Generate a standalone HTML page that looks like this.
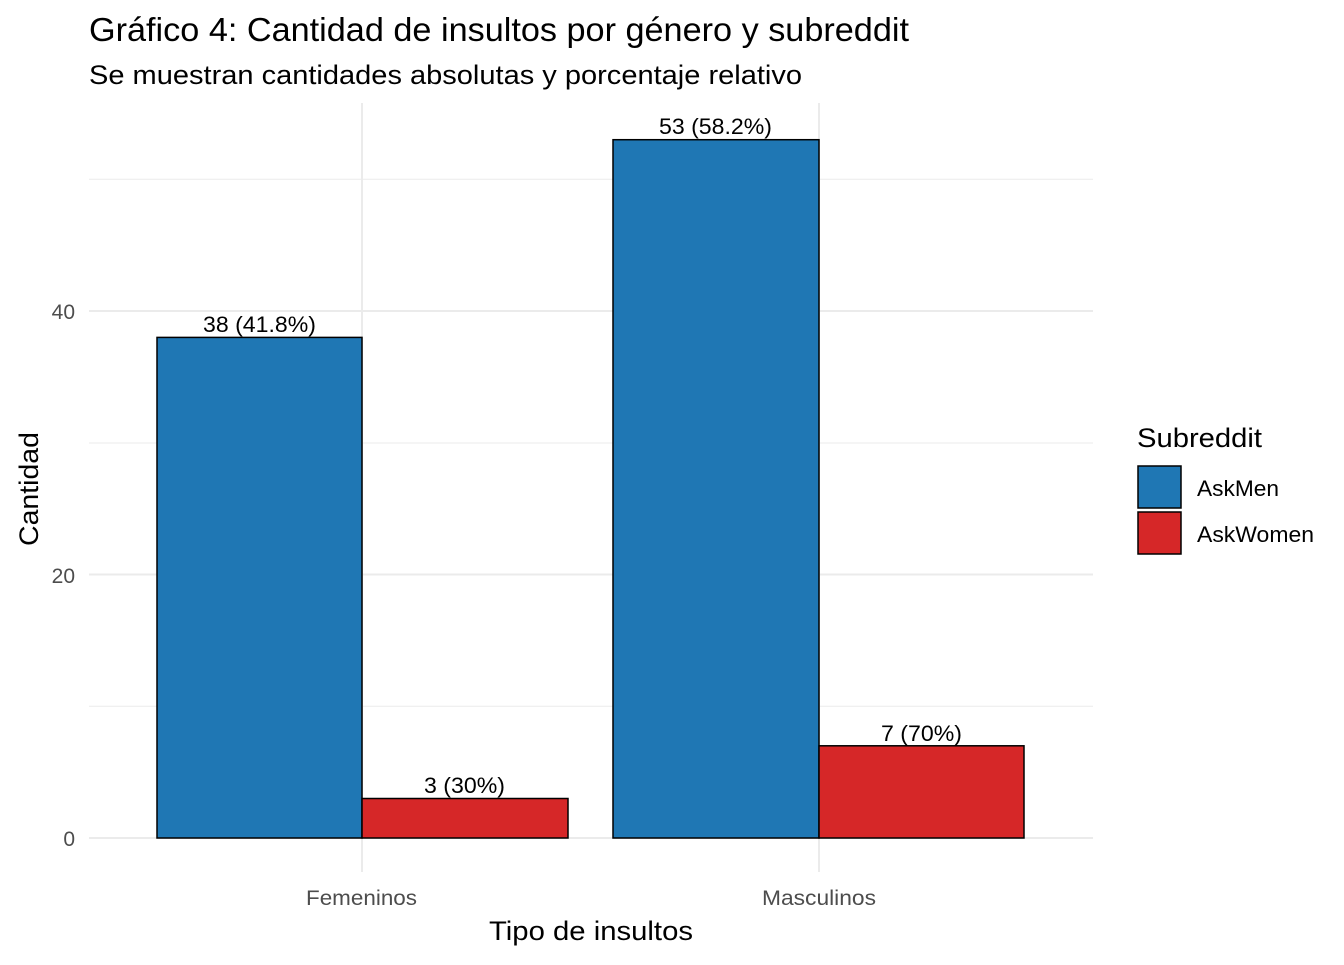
<!DOCTYPE html>
<html><head><meta charset="utf-8"><style>body{margin:0;background:#fff}</style></head>
<body>
<svg width="1344" height="960" xmlns="http://www.w3.org/2000/svg" font-family="Liberation Sans, sans-serif">
<rect width="1344" height="960" fill="#fff"/>
<g stroke="#ebebeb" stroke-width="1">
<line x1="89" x2="1093" y1="706.3" y2="706.3"/>
<line x1="89" x2="1093" y1="443" y2="443"/>
<line x1="89" x2="1093" y1="179.3" y2="179.3"/>
</g>
<g stroke="#ebebeb" stroke-width="2">
<line x1="89" x2="1093" y1="838" y2="838"/>
<line x1="89" x2="1093" y1="574.5" y2="574.5"/>
<line x1="89" x2="1093" y1="311" y2="311"/>
<line x1="362" x2="362" y1="103" y2="872"/>
<line x1="819" x2="819" y1="103" y2="872"/>
</g>
<g stroke="#000" stroke-width="1.5">
<rect x="157" y="337.4" width="205" height="500.6" fill="#1f77b4"/>
<rect x="362" y="798.5" width="206" height="39.5" fill="#d62728"/>
<rect x="613" y="139.7" width="206" height="698.3" fill="#1f77b4"/>
<rect x="819" y="745.8" width="205" height="92.2" fill="#d62728"/>
</g>
<g font-size="22" fill="#000" lengthAdjust="spacingAndGlyphs">
<text x="203" y="332" textLength="113" lengthAdjust="spacingAndGlyphs">38 (41.8%)</text>
<text x="424" y="793" textLength="81" lengthAdjust="spacingAndGlyphs">3 (30%)</text>
<text x="659" y="134" textLength="113" lengthAdjust="spacingAndGlyphs">53 (58.2%)</text>
<text x="881" y="741" textLength="81" lengthAdjust="spacingAndGlyphs">7 (70%)</text>
</g>
<g font-size="21" fill="#4d4d4d" text-anchor="end">
<text x="75" y="846">0</text>
<text x="75" y="583">20</text>
<text x="75" y="319">40</text>
</g>
<g font-size="21" fill="#4d4d4d">
<text x="306" y="905" textLength="111" lengthAdjust="spacingAndGlyphs">Femeninos</text>
<text x="762" y="905" textLength="114" lengthAdjust="spacingAndGlyphs">Masculinos</text>
</g>
<text x="489" y="940" font-size="27" textLength="204" lengthAdjust="spacingAndGlyphs">Tipo de insultos</text>
<text transform="translate(38,546) rotate(-90)" font-size="27" textLength="114" lengthAdjust="spacingAndGlyphs">Cantidad</text>
<text x="89" y="41" font-size="33" textLength="820" lengthAdjust="spacingAndGlyphs">Gráfico 4: Cantidad de insultos por género y subreddit</text>
<text x="89" y="84" font-size="27" textLength="713" lengthAdjust="spacingAndGlyphs">Se muestran cantidades absolutas y porcentaje relativo</text>
<text x="1137" y="447" font-size="27" textLength="125" lengthAdjust="spacingAndGlyphs">Subreddit</text>
<rect x="1138" y="466" width="43" height="42" fill="#1f77b4" stroke="#000" stroke-width="1.5"/>
<rect x="1138" y="512" width="43" height="42" fill="#d62728" stroke="#000" stroke-width="1.5"/>
<text x="1197" y="496" font-size="22" textLength="82" lengthAdjust="spacingAndGlyphs">AskMen</text>
<text x="1197" y="542" font-size="22" textLength="117" lengthAdjust="spacingAndGlyphs">AskWomen</text>
</svg>
</body></html>
